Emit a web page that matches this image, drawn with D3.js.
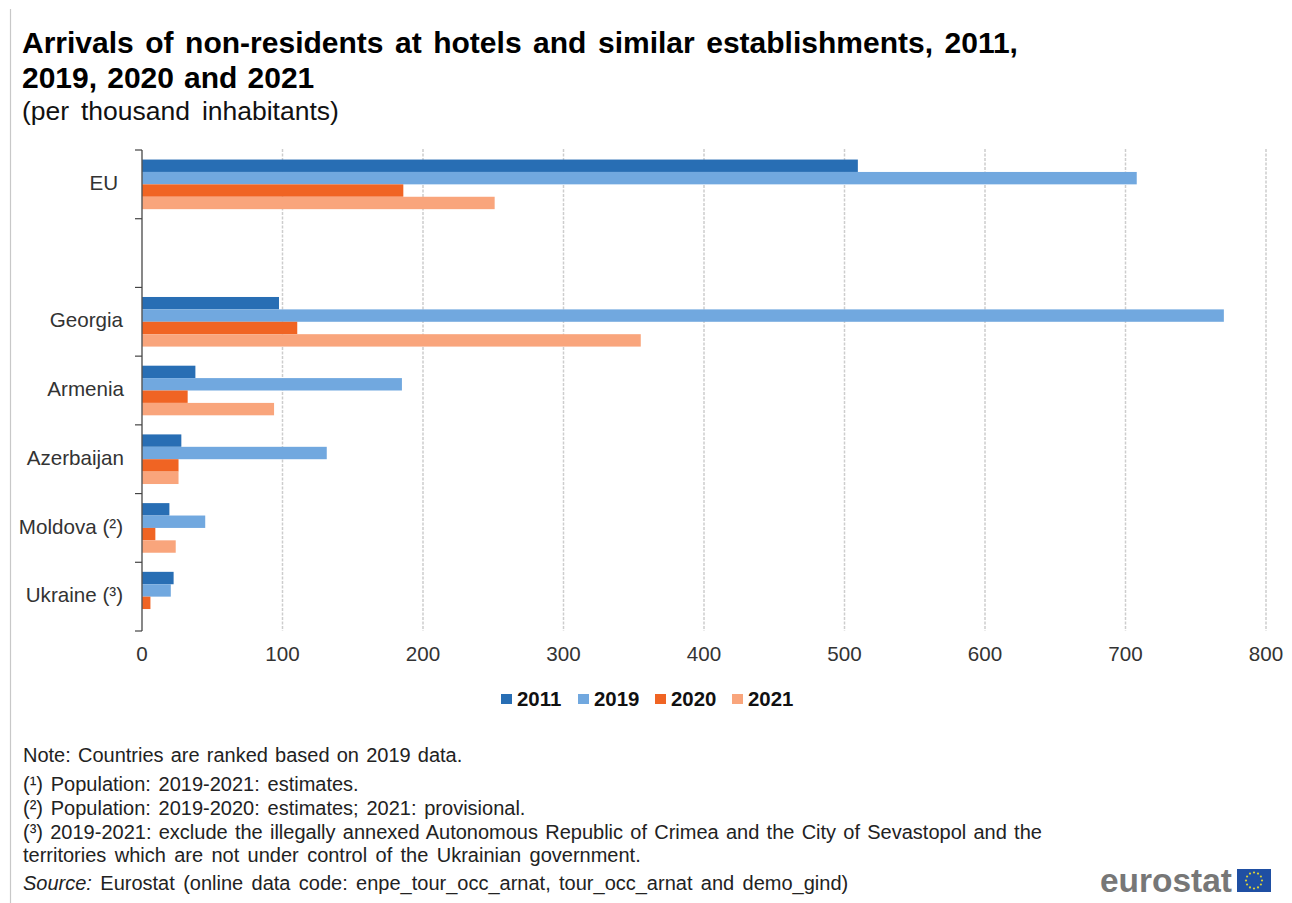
<!DOCTYPE html>
<html>
<head>
<meta charset="utf-8">
<script src="https://cdn.jsdelivr.net/npm/d3@7/dist/d3.min.js"></script>
<style>
  html, body { margin: 0; padding: 0; background: #fff; }
  svg { display: block; }
  text { font-family: "Liberation Sans", Arial, sans-serif; }
</style>
</head>
<body>
<svg id="chart" width="1292" height="903"></svg>
<script>
// Arrivals per thousand inhabitants, by country and year
const categories = ["EU", "", "Georgia", "Armenia", "Azerbaijan", "Moldova (²)", "Ukraine (³)"];
const years = ["2011", "2019", "2020", "2021"];
const values2011 = [509.5, null, 97.5, 38, 28, 19.5, 22.5];
const values2019 = [708, null, 770, 185, 131.5, 45, 20.5];
const values2020 = [186, null, 110.5, 32.5, 26, 9.5, 6];
const values2021 = [251, null, 355, 94, 26, 24, null];
const colours = ["#286EB4", "#71A8DF", "#F06423", "#F9A57C"];
const xTicks = [0, 100, 200, 300, 400, 500, 600, 700, 800];
const titleLines = [
  "Arrivals of non-residents at hotels and similar establishments, 2011,",
  "2019, 2020 and 2021"
];
const titleWordSpacing = [3.2, 1.8];
const subtitle = "(per thousand inhabitants)";
const noteLines = [
  "Note: Countries are ranked based on 2019 data.",
  "(¹) Population: 2019-2021: estimates.",
  "(²) Population: 2019-2020: estimates; 2021: provisional.",
  "(³) 2019-2021: exclude the illegally annexed Autonomous Republic of Crimea and the City of Sevastopol and the",
  "territories which are not under control of the Ukrainian government."
];
const noteBaselines = [762, 791, 815, 839, 862];
const noteWordSpacing = [1.6, 2.2, 2.2, 1.7, 2.8];

const seriesValues = [values2011, values2019, values2020, values2021];
const svg = d3.select("#chart");
const plot = { left: 142, right: 1266, top: 150, bottom: 631 };

const x = d3.scaleLinear().domain([0, 800]).range([plot.left, plot.right]);
const yBand = d3.scaleBand().domain(d3.range(categories.length)).range([plot.top, plot.bottom]);
const yInner = d3.scaleBand().domain(years).range([0, yBand.bandwidth()]).paddingInner(0).paddingOuter(0.77);

// Frame line on the left edge
svg.append("line").attr("x1", 10.5).attr("x2", 10.5).attr("y1", 9).attr("y2", 903)
  .attr("stroke", "#c8c8c8").attr("stroke-width", 1.2);

// Heading
svg.selectAll("text.title").data(titleLines).join("text").attr("class", "title")
  .attr("x", 22).attr("y", (d, i) => 53 + i * 35)
  .attr("font-size", 30).attr("font-weight", "bold").attr("fill", "#000")
  .attr("word-spacing", (d, i) => titleWordSpacing[i])
  .text(d => d);
svg.append("text").attr("x", 22).attr("y", 120).attr("font-size", 26.5)
  .attr("fill", "#111").attr("word-spacing", 4.5).text(subtitle);

// Dashed vertical gridlines
svg.append("g").selectAll("line").data(xTicks.slice(1)).join("line")
  .attr("x1", d => x(d)).attr("x2", d => x(d))
  .attr("y1", plot.top - 1).attr("y2", plot.bottom)
  .attr("stroke", "#cdcdcd").attr("stroke-width", 1.5).attr("stroke-dasharray", "3 1.5");

// Grouped bars
const groups = svg.append("g").selectAll("g").data(years).join("g")
  .attr("fill", (d, i) => colours[i]);
groups.selectAll("rect")
  .data((yr, s) => seriesValues[s].map((v, c) => ({ v, c, yr })).filter(d => d.v !== null))
  .join("rect")
  .attr("x", x(0))
  .attr("y", d => yBand(d.c) + yInner(d.yr))
  .attr("width", d => x(d.v) - x(0))
  .attr("height", yInner.bandwidth());

// Category axis with ticks on the band boundaries
const yEdges = d3.range(categories.length + 1).map(i => plot.top + i * yBand.step());
const yAxis = svg.append("g");
yAxis.append("line").attr("x1", 142).attr("x2", 142).attr("y1", plot.top).attr("y2", plot.bottom)
  .attr("stroke", "#555").attr("stroke-width", 1.4);
yAxis.selectAll("line.tick").data(yEdges).join("line").attr("class", "tick")
  .attr("x1", 135).attr("x2", 142).attr("y1", d => d).attr("y2", d => d)
  .attr("stroke", "#444").attr("stroke-width", 1.2);
const labelRightEdge = [118, 123, 123, 124, 124, 123, 123];
svg.append("g").selectAll("text").data(categories).join("text")
  .attr("x", (d, i) => labelRightEdge[i]).attr("y", (d, i) => yBand(i) + yBand.bandwidth() / 2 - 1.5)
  .attr("dy", "0.35em").attr("text-anchor", "end")
  .attr("font-size", 20.6).attr("fill", "#333").text(d => d);

// Value axis labels
svg.append("g").selectAll("text").data(xTicks).join("text")
  .attr("x", d => x(d)).attr("y", 661).attr("text-anchor", "middle")
  .attr("font-size", 20.6).attr("fill", "#333").text(d => d);

// Legend
const legendX = [501, 578, 655, 732];
const legend = svg.append("g").selectAll("g").data(years).join("g")
  .attr("transform", (d, i) => `translate(${legendX[i]},0)`);
legend.append("rect").attr("y", 694).attr("width", 11).attr("height", 10)
  .attr("fill", (d, i) => colours[i]);
legend.append("text").attr("x", 16).attr("y", 706).attr("font-size", 20.4)
  .attr("font-weight", "bold").attr("fill", "#111").text(d => d);

// Footnotes
svg.selectAll("text.note").data(noteLines).join("text").attr("class", "note")
  .attr("x", 23).attr("y", (d, i) => noteBaselines[i])
  .attr("font-size", 20).attr("fill", "#222").attr("word-spacing", (d, i) => noteWordSpacing[i]).text(d => d);
const source = svg.append("text").attr("x", 23).attr("y", 890)
  .attr("font-size", 20).attr("fill", "#222").attr("word-spacing", 2.8);
source.append("tspan").attr("font-style", "italic").text("Source:");
source.append("tspan").text(" Eurostat (online data code: enpe_tour_occ_arnat, tour_occ_arnat and demo_gind)");

// Wordmark and flag
svg.append("text").attr("x", 1100).attr("y", 892).attr("font-size", 33)
  .attr("font-weight", "bold").attr("fill", "#777").attr("textLength", 132)
  .attr("lengthAdjust", "spacingAndGlyphs").text("eurostat");
svg.append("rect").attr("x", 1237).attr("y", 869).attr("width", 34).attr("height", 23).attr("fill", "#1F4FA3");
const starAngles = d3.range(12).map(i => i * Math.PI / 6);
svg.append("g").selectAll("circle").data(starAngles).join("circle")
  .attr("cx", a => 1254 + 8 * Math.cos(a)).attr("cy", a => 880.5 + 8 * Math.sin(a))
  .attr("r", 1.1).attr("fill", "#D8D03A");
</script>
</body>
</html>
